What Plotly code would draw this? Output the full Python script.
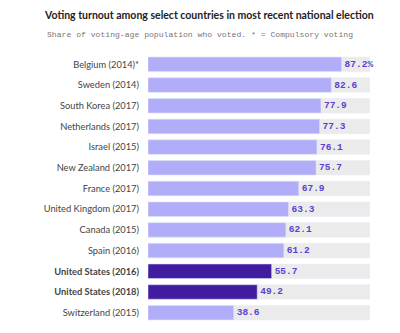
import plotly.graph_objects as go

countries = ["Belgium (2014)*", "Sweden (2014)", "South Korea (2017)", "Netherlands (2017)",
             "Israel (2015)", "New Zealand (2017)", "France (2017)", "United Kingdom (2017)",
             "Canada (2015)", "Spain (2016)", "United States (2016)", "United States (2018)",
             "Switzerland (2015)"]
turnout = [87.2, 82.6, 77.9, 77.3, 76.1, 75.7, 67.9, 63.3, 62.1, 61.2, 55.7, 49.2, 38.6]
value_labels = ["87.2%", "82.6", "77.9", "77.3", "76.1", "75.7", "67.9", "63.3", "62.1",
                "61.2", "55.7", "49.2", "38.6"]
highlight = [False]*10 + [True, True] + [False]
full_scale = [100]*len(countries)

light = "#b2adf8"
dark = "#3f1ca0"
colors = [dark if h else light for h in highlight]
ticktext = [f"<b>{c}</b>" if h else c for c, h in zip(countries, highlight)]

W, H = 400, 333
ML, MR, MT, MB = 148, 30, 54, 10
pw, ph = W - ML - MR, H - MT - MB

fig = go.Figure()
fig.add_trace(go.Bar(y=countries, x=full_scale, orientation="h", marker_color="#ebebeb",
                     width=0.7, hoverinfo="skip", showlegend=False))
fig.add_trace(go.Bar(y=countries, x=turnout, orientation="h", marker_color=colors,
                     width=0.7, text=[f"<b>{v}</b>" for v in value_labels], textposition="outside",
                     textfont=dict(family="Liberation Mono", size=9.5, color="#5a3fd0"),
                     cliponaxis=False, showlegend=False))

fig.update_layout(
    width=W, height=H, barmode="overlay",
    margin=dict(l=ML, r=MR, t=MT, b=MB),
    paper_bgcolor="white", plot_bgcolor="white",
    font=dict(family="Lato", color="#555555", size=10),
    xaxis=dict(range=[0, 100], visible=False),
    yaxis=dict(autorange="reversed", categoryorder="array", categoryarray=countries,
               tickmode="array", tickvals=countries, ticktext=ticktext,
               ticks="", ticklabelstandoff=8, showgrid=False,
               tickfont=dict(family="Lato", size=9.3, color="#444444")),
    title=dict(text="<b>Voting turnout among select countries in most recent national election</b>",
               x=45/W, xref="container", xanchor="left", y=1 - 15/H, yref="container",
               yanchor="middle", font=dict(family="Lato", size=10.5, color="#222222")),
    annotations=[dict(text="Share of voting-age population who voted. * = Compulsory voting",
                      xref="paper", yref="paper", x=(45-ML)/pw, y=(H - MB - 34)/ph,
                      xanchor="left", yanchor="middle", showarrow=False,
                      font=dict(family="Liberation Mono", size=8.1, color="#777777"))],
)
fig.write_html("out.html")
